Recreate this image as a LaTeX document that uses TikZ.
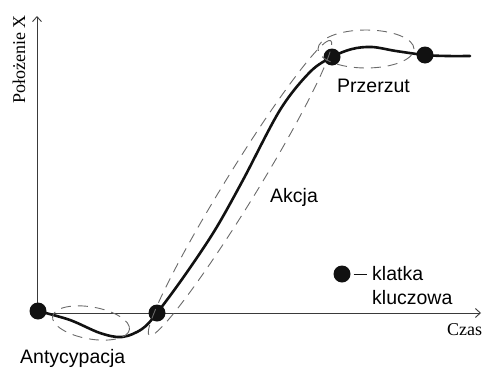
\documentclass[tikz,border=0pt]{standalone}
\usepackage{fontspec}
\setmainfont{Liberation Serif}
\setsansfont{Liberation Sans}
\usetikzlibrary{arrows.meta,positioning}
\definecolor{ink}{HTML}{111111}
\definecolor{axisgray}{HTML}{3A3A3A}
\definecolor{dashgray}{HTML}{6A6A6A}
\tikzset{
  axis/.style={line width=0.9pt,color=axisgray,-{Straight Barb[length=5pt,width=9pt]}},
  motion/.style={line width=2.6pt,color=ink,line join=round,line cap=round},
  phase/.style={dashgray,line width=0.9pt,dash pattern=on 10pt off 7pt},
  keyframe/.style={circle,fill=ink,inner sep=0pt,minimum size=17pt},
  lbl/.style={font=\sffamily\fontsize{19.5}{24}\selectfont,inner sep=0pt,anchor=base west},
  axlbl/.style={font=\fontsize{18}{22}\selectfont,inner sep=0pt,anchor=base west}
}

\begin{document}
\begin{tikzpicture}[x=1pt,y=-1pt]
  \useasboundingbox (0,0) rectangle (482,367);
  % axes
  \coordinate (o) at (37,313);
  \coordinate (ytip) at (37,16);
  \coordinate (xtip) at (481,313);
  \draw[axis] (o) -- (ytip);
  \draw[axis] (o) -- (xtip);
  \node[axlbl,rotate=90] (ylab) at (25,104) {Położenie X};
  \node[axlbl] (xlab) at (447,335) {Czas};
  % key frames
  \node[keyframe] (k1) at (38,311) {};
  \node[keyframe] (k2) at (157,313) {};
  \node[keyframe] (k3) at (332,57) {};
  \node[keyframe] (k4) at (425,55) {};
  % motion curve
  \draw[motion] plot[smooth,tension=0.55] coordinates {(k1.center) (70,320) (100,333) (122,337) (142,329)
    (k2.center) (185,275) (215,230) (243,180) (280,110) (310,72) (k3.center) (352,49) (372,47) (396,51)
    (k4.center) (447,56) (470,56)};
  % phases
  \draw[phase,rotate around={-10:(91,323)}] (91,323) ellipse [x radius=39pt,y radius=16pt];
  \draw[phase,rotate around={58.4:(240,188)}] (240,188) ellipse [x radius=173pt,y radius=16pt];
  \draw[phase] (366,49) ellipse [x radius=48pt,y radius=19pt];
  \node[lbl] (antic) at (20,363) {Antycypacja};
  \node[lbl] (action) at (270,202) {Akcja};
  \node[lbl] (over) at (337,92) {Przerzut};
  % legend
  \node[keyframe] (leg) at (342,274) {};
  \node[lbl] (kf1) at (372,280) {klatka};
  \node[lbl] (kf2) at ([yshift=-24pt]kf1.base west) {kluczowa};
  \draw[line width=0.9pt,ink,shorten <=3pt,shorten >=5pt] (leg.east) -- (leg -| kf1.west);
\end{tikzpicture}
\end{document}
